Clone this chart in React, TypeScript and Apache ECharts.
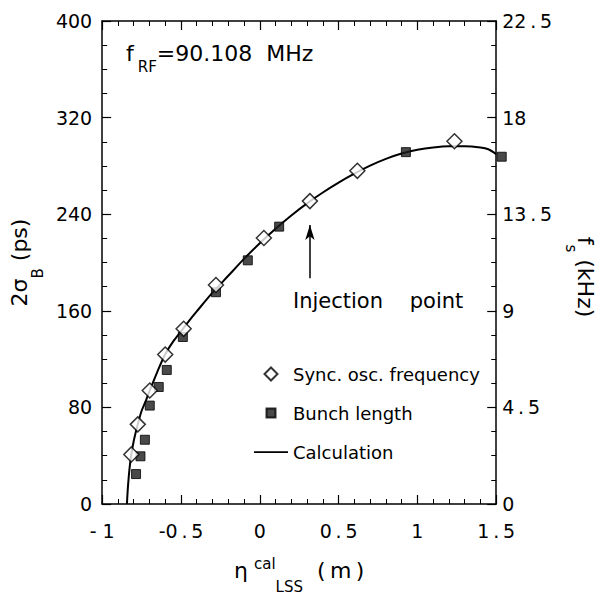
import React, { useEffect, useRef } from 'react';
import * as echarts from 'echarts';

// Synchronous oscillation frequency (kHz) vs eta
const etaSync = [-0.815, -0.774, -0.698, -0.6, -0.483, -0.278, 0.026, 0.318, 0.619, 1.235];
const fsSync = [2.31, 3.71, 5.29, 6.96, 8.16, 10.2, 12.39, 14.11, 15.52, 16.9];

// Bunch length 2 sigma_B (ps) vs eta
const etaBunch = [-0.785, -0.757, -0.729, -0.698, -0.641, -0.59, -0.488, -0.278, -0.076, 0.123, 0.927, 1.535];
const sigmaBunch = [24.8, 39.5, 53.2, 81.5, 96.9, 111.0, 138.3, 175.4, 201.8, 229.7, 291.4, 287.6];

// Calculation curve (ps)
const etaCalc = [-0.843, -0.836, -0.826, -0.815, -0.8, -0.774, -0.75, -0.72, -0.698, -0.65, -0.6, -0.55, -0.5, -0.45, -0.4, -0.3, -0.2, -0.1, 0.0, 0.1, 0.2, 0.3, 0.4, 0.5, 0.6, 0.7, 0.8, 0.9, 1.0, 1.1, 1.2, 1.3, 1.4, 1.45, 1.5];
const sigmaCalc = [0, 15, 30, 41, 52, 66, 77, 86.5, 94, 109.5, 124, 134.5, 143, 151.5, 159.5, 175, 189, 203, 216, 228, 239, 249, 258, 266.2, 273.6, 280.2, 285.8, 290.2, 293.3, 295.3, 296.3, 296.3, 295.3, 293.8, 289.8];

// Injection point arrow (eta, ps): tail -> tip
const arrowTail = [0.318, 187];
const arrowTip = [0.318, 231];

const FONT = 'DejaVu Sans';
const BLACK = '#000';

const fmtDec = (v: number) => (v === -1 ? '- 1' : String(v).replace('.', '\u2009.\u2009'));

export default function App() {
  const ref = useRef<HTMLDivElement>(null);
  useEffect(() => {
    document.body.style.margin = '0';
    const chart = echarts.init(ref.current!, null, { renderer: 'svg' });
    const tickCommon = {
      axisLine: { show: true, onZero: false, lineStyle: { color: BLACK, width: 1.5 } },
      axisTick: { show: true, inside: true, length: 9, lineStyle: { color: BLACK, width: 1.2 } },
      minorTick: { show: true, length: 5, lineStyle: { color: BLACK, width: 1 } },
      splitLine: { show: false },
      minorSplitLine: { show: false },
    };
    const option: any = {
      animation: false,
      backgroundColor: '#fff',
      grid: { left: 101, right: 97, top: 21, bottom: 87 },
      xAxis: [
        {
          type: 'value', position: 'bottom', min: -1, max: 1.5, interval: 0.5,
          ...tickCommon,
          minorTick: { ...tickCommon.minorTick, splitNumber: 5 },
          axisLabel: { formatter: fmtDec, fontFamily: FONT, fontSize: 19, color: BLACK, margin: 17 },
          name: '{m|η}{sup|cal}{sub|LSS}{m|  (\u2009m\u2009)}',
          nameLocation: 'middle', nameGap: 43,
          nameTextStyle: {
            color: BLACK,
            rich: {
              m: { fontFamily: FONT, fontSize: 22, lineHeight: 22, verticalAlign: 'middle', color: BLACK },
              sup: { fontFamily: FONT, fontSize: 15, lineHeight: 15, verticalAlign: 'top', padding: [9, 0, 0, 6], color: BLACK },
              sub: { fontFamily: FONT, fontSize: 15, lineHeight: 47, verticalAlign: 'bottom', color: BLACK },
            },
          },
        },
        {
          type: 'value', position: 'top', min: -1, max: 1.5, interval: 0.5,
          ...tickCommon,
          minorTick: { ...tickCommon.minorTick, splitNumber: 5 },
          axisLabel: { show: false },
        },
      ],
      yAxis: [
        {
          type: 'value', position: 'left', min: 0, max: 400, interval: 80,
          ...tickCommon,
          minorTick: { ...tickCommon.minorTick, splitNumber: 4 },
          axisLabel: { fontFamily: FONT, fontSize: 19, color: BLACK, margin: 10 },
          name: '{m|2σ}{s|B}{m| (ps)}',
          nameLocation: 'middle', nameGap: 48, nameRotate: 90,
          nameTextStyle: {
            color: BLACK,
            rich: {
              m: { fontFamily: FONT, fontSize: 22, lineHeight: 22, verticalAlign: 'top', color: BLACK },
              s: { fontFamily: FONT, fontSize: 15, lineHeight: 37, verticalAlign: 'bottom', color: BLACK },
            },
          },
        },
        {
          type: 'value', position: 'right', min: 0, max: 22.5, interval: 4.5,
          ...tickCommon,
          minorTick: { ...tickCommon.minorTick, splitNumber: 4 },
          axisLabel: { formatter: fmtDec, fontFamily: FONT, fontSize: 19, color: BLACK, margin: 6 },
          name: '{m|f}{s|s}{m| (kHz)}',
          nameLocation: 'middle', nameGap: 60, nameRotate: -90,
          nameTextStyle: {
            color: BLACK,
            padding: [0, 0, 0, 29],
            rich: {
              m: { fontFamily: FONT, fontSize: 22, lineHeight: 22, verticalAlign: 'top', color: BLACK },
              s: { fontFamily: FONT, fontSize: 15, lineHeight: 33, verticalAlign: 'bottom', color: BLACK },
            },
          },
        },
      ],
      legend: {
        show: true,
        orient: 'vertical',
        left: 248,
        top: 360,
        itemWidth: 34,
        itemHeight: 14,
        itemGap: 21,
        selectedMode: false,
        textStyle: { fontFamily: FONT, fontSize: 18, lineHeight: 18, color: BLACK },
        data: [
          { name: 'Sync. osc. frequency', icon: 'path://M0,0M17,0.5L23.5,7L17,13.5L10.5,7ZM34,14' },
          { name: 'Bunch length', icon: 'path://M0,0M12.5,2.5h9v9h-9zM34,14' },
          { name: 'Calculation', icon: 'path://M0,0M0,6.2h34v1.8h-34zM34,14', itemStyle: { color: BLACK, borderWidth: 0 } },
        ],
      },
      graphic: [
        {
          type: 'text', left: 126, top: 42,
          style: {
            text: '{m|f}{s|RF}{m|=90.108  MHz}',
            fill: BLACK,
            rich: {
              m: { fontFamily: FONT, fontSize: 22, lineHeight: 22, verticalAlign: 'top', fill: BLACK },
              s: { fontFamily: FONT, fontSize: 15, lineHeight: 32, verticalAlign: 'bottom', padding: [0, 0, 0, 4], fill: BLACK },
            },
          },
        },
        {
          type: 'text', left: 293, top: 290,
          style: { text: 'Injection    point', fontFamily: FONT, fontSize: 21, fill: BLACK },
        },
      ],
      series: [
        {
          name: 'Calculation',
          type: 'line',
          xAxisIndex: 0, yAxisIndex: 0,
          data: etaCalc.map((x, i) => [x, sigmaCalc[i]]),
          smooth: 0.3,
          symbol: 'none',
          lineStyle: { color: BLACK, width: 2 },
          itemStyle: { color: BLACK },
          z: 2,
          markLine: {
            silent: true,
            symbol: ['none', 'arrow'],
            symbolSize: [7, 15],
            label: { show: false },
            lineStyle: { color: BLACK, width: 1.5, type: 'solid' },
            data: [[{ coord: arrowTail }, { coord: arrowTip }]],
          },
        },
        {
          name: 'Bunch length',
          type: 'scatter',
          xAxisIndex: 0, yAxisIndex: 0,
          clip: false,
          data: etaBunch.map((x, i) => [x, sigmaBunch[i]]),
          symbol: 'rect',
          symbolSize: 9,
          itemStyle: { color: '#1c1c1c', borderColor: BLACK, borderWidth: 1 },
          z: 3,
        },
        {
          name: 'Sync. osc. frequency',
          type: 'scatter',
          xAxisIndex: 0, yAxisIndex: 1,
          clip: false,
          data: etaSync.map((x, i) => [x, fsSync[i]]),
          symbol: 'diamond',
          symbolSize: 15,
          itemStyle: { color: '#fff', borderColor: BLACK, borderWidth: 1.5 },
          z: 4,
        },
      ],
    };
    chart.setOption(option);
    return () => chart.dispose();
  }, []);
  return (
    <div
      ref={ref}
      style={{ position: 'fixed', left: 0, top: 0, width: 604, height: 599, background: '#fff' }}
    />
  );
}
